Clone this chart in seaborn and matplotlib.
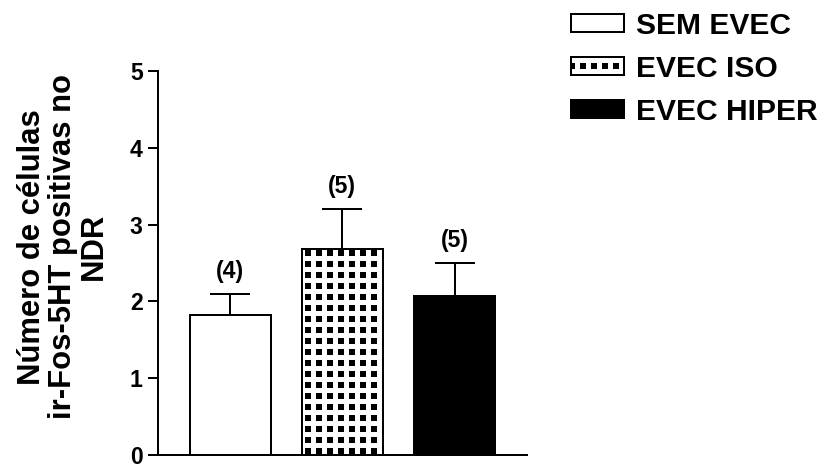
import matplotlib
matplotlib.use("Agg")
import matplotlib.pyplot as plt
from matplotlib.patches import Patch, Rectangle
from matplotlib.legend_handler import HandlerTuple
import numpy as np
import pandas as pd
import seaborn as sns

# Group means, SEM and sample sizes
groups = ["SEM EVEC", "EVEC ISO", "EVEC HIPER"]
means = [1.82, 2.68, 2.07]
sems = [0.28, 0.52, 0.43]
n_labels = ["(4)", "(5)", "(5)"]
y_ticks = [0, 1, 2, 3, 4, 5]
y_label = "Número de células\nir-Fos-5HT positivas no\nNDR"

DPI = 66
PT = 72.0 / DPI  # points per pixel

sns.set_style("ticks")
plt.rcParams["font.family"] = ["Liberation Sans", "DejaVu Sans"]
plt.rcParams["font.weight"] = "bold"
plt.rcParams["hatch.linewidth"] = 5.0 * PT
for key in ["text.color", "axes.labelcolor", "xtick.color", "ytick.color",
            "axes.edgecolor"]:
    plt.rcParams[key] = "black"

fig = plt.figure(figsize=(827 / DPI, 466 / DPI), dpi=DPI)
ax = fig.add_axes([157.7 / 827, 1 - 455.0 / 466, (527 - 157.7) / 827, (455.0 - 71.0) / 466])

df = pd.DataFrame({"grupo": groups, "media": means})
sns.barplot(data=df, x="grupo", y="media", order=groups, errorbar=None,
            width=0.72, color="white", ax=ax, zorder=3)

edge_lw = 2.0 * PT
styles = [
    dict(facecolor="white", edgecolor="black", hatch=None),
    dict(facecolor="black", edgecolor="white", hatch="+"),
    dict(facecolor="black", edgecolor="black", hatch=None),
]
bars = list(ax.patches)
for p, st in zip(bars, styles):
    p.set_facecolor(st["facecolor"])
    p.set_edgecolor(st["edgecolor"])
    p.set_linewidth(edge_lw)
    if st["hatch"]:
        p.set_hatch(st["hatch"])
        # black outline on top of the checkered fill
        ax.add_patch(Rectangle(p.get_xy(), p.get_width(), p.get_height(),
                               fill=False, edgecolor="black", linewidth=edge_lw,
                               zorder=4))

centers = [p.get_x() + p.get_width() / 2 for p in bars]
ax.errorbar(centers, means, yerr=[np.zeros(len(sems)), sems], fmt="none",
            ecolor="black", elinewidth=2.0 * PT, capsize=20 * PT,
            capthick=2.0 * PT, zorder=2)

for x, m, s, lab in zip(centers, means, sems, n_labels):
    ax.annotate(lab, (x, m + s), xytext=(0, 11 * PT), textcoords="offset points",
                ha="center", va="bottom", fontsize=23 * PT, fontweight="bold",
                color="black")

ax.set_xlim(-0.645, 2.645)
ax.set_ylim(0, 5)
ax.set_yticks(y_ticks)
ax.set_yticklabels([str(t) for t in y_ticks], fontsize=23 * PT, fontweight="bold")
ax.set_xticks([])
ax.set_xlabel("")
ax.set_ylabel(y_label, fontsize=31 * PT, fontweight="bold", linespacing=1.05)
ax.yaxis.set_label_coords(-0.132, 0.542)
for side in ["top", "right"]:
    ax.spines[side].set_visible(False)
for side in ["left", "bottom"]:
    ax.spines[side].set_linewidth(2.0 * PT)
    ax.spines[side].set_color("black")
ax.tick_params(axis="y", length=10 * PT, width=2.0 * PT, pad=5 * PT, colors="black")

# Legend
h1 = Patch(facecolor="white", edgecolor="black", linewidth=edge_lw)
h2 = (Patch(facecolor="black", edgecolor="white", hatch="+", linewidth=0),
      Patch(fill=False, edgecolor="black", linewidth=edge_lw))
h3 = Patch(facecolor="black", edgecolor="black", linewidth=edge_lw)
fig.legend([h1, h2, h3], groups, loc="upper left",
           bbox_to_anchor=(571 / 827, 1 - 12 / 466),
           handler_map={tuple: HandlerTuple(ndivide=1, pad=0)},
           frameon=False, prop={"size": 30 * PT, "weight": "bold"},
           handlelength=1.75, handleheight=0.55, handletextpad=0.43,
           labelspacing=0.5, borderaxespad=0, borderpad=0)

fig.savefig("out.png", dpi=DPI)
